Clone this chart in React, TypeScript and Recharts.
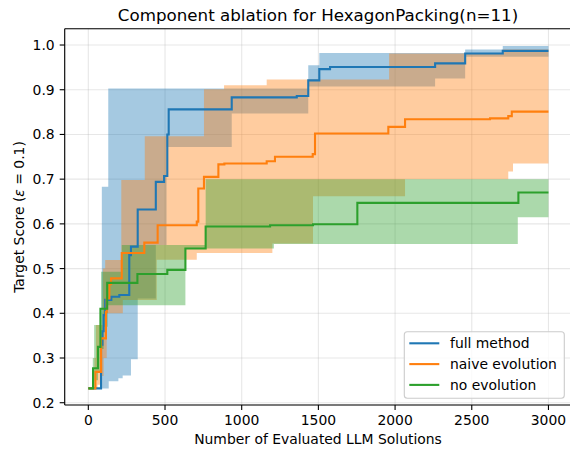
import { ComposedChart, Line, Area, XAxis, YAxis, CartesianGrid, ReferenceLine } from 'recharts';

const xTicks = [0, 500, 1000, 1500, 2000, 2500, 3000];
const yTicks = [0.2, 0.3, 0.4, 0.5, 0.6, 0.7, 0.8, 0.9, 1.0];

// step points [evaluations, score]
const fullLine: [number, number][] = [
  [0, 0.232], [83, 0.33], [92, 0.36], [100, 0.396], [110, 0.43], [150, 0.437], [202, 0.441],
  [267, 0.53], [278, 0.549], [322, 0.632], [440, 0.694], [494, 0.707], [515, 0.8], [524, 0.856],
  [935, 0.883], [1359, 0.886], [1434, 0.921], [1506, 0.946], [1576, 0.951], [2261, 0.959],
  [2457, 0.981], [2702, 0.987], [3000, 0.987],
];
const fullLo: [number, number][] = [
  [0, 0.232], [133, 0.248], [196, 0.255], [224, 0.261], [278, 0.297], [322, 0.433], [440, 0.553],
  [510, 0.772], [935, 0.847], [1434, 0.907], [2261, 0.925], [2457, 0.974], [3000, 0.974],
];
const fullHi: [number, number][] = [
  [0, 0.232], [88, 0.683], [130, 0.903], [1434, 0.955], [1506, 0.982], [2457, 0.99], [2702, 0.998], [3000, 0.998],
];

const naiveLine: [number, number][] = [
  [0, 0.232], [46, 0.269], [83, 0.344], [115, 0.403], [120, 0.433], [137, 0.465], [148, 0.478],
  [218, 0.535], [365, 0.558], [452, 0.597], [707, 0.605], [717, 0.679], [754, 0.705], [848, 0.733],
  [887, 0.735], [1163, 0.74], [1217, 0.75], [1463, 0.756], [1478, 0.802], [1956, 0.817],
  [2065, 0.834], [2619, 0.836], [2738, 0.841], [2761, 0.851], [3000, 0.851],
];
const naiveLo: [number, number][] = [
  [0, 0.232], [60, 0.24], [83, 0.26], [100, 0.3], [120, 0.4], [225, 0.43], [446, 0.52], [707, 0.535],
  [1200, 0.556], [1465, 0.662], [2065, 0.7], [2738, 0.717], [2769, 0.735], [3000, 0.735],
];
const naiveHi: [number, number][] = [
  [0, 0.232], [40, 0.3], [50, 0.374], [95, 0.5], [110, 0.519], [215, 0.698], [368, 0.796],
  [754, 0.901], [885, 0.91], [1163, 0.923], [1961, 0.981], [2702, 0.99], [3000, 0.99],
];

const noEvoLine: [number, number][] = [
  [0, 0.232], [31, 0.277], [63, 0.325], [79, 0.41], [123, 0.468], [320, 0.488], [515, 0.497],
  [633, 0.545], [765, 0.594], [1185, 0.597], [1465, 0.599], [1754, 0.647], [2804, 0.67], [3000, 0.67],
];
const noEvoLo: [number, number][] = [
  [0, 0.232], [40, 0.25], [63, 0.27], [79, 0.32], [100, 0.37], [126, 0.418], [633, 0.545],
  [1210, 0.555], [2800, 0.615], [3000, 0.615],
];
const noEvoHi: [number, number][] = [
  [0, 0.232], [29, 0.3], [38, 0.374], [83, 0.493], [218, 0.553], [765, 0.7], [3000, 0.7],
];

const X_MIN = -154;
const X_MAX = 3147;
const Y_MIN = 0.1949;
const Y_MAX = 1.0365;

const FONT = 'DejaVu Sans';

function stepAt(steps: [number, number][], x: number) {
  let v = steps[0][1];
  for (const [sx, sy] of steps) {
    if (sx <= x) v = sy;
    else break;
  }
  return v;
}

function bandData(lo: [number, number][], hi: [number, number][]) {
  const xs = Array.from(new Set([...lo.map((p) => p[0]), ...hi.map((p) => p[0])])).sort((a, b) => a - b);
  return xs.map((x) => ({ x, range: [stepAt(lo, x), stepAt(hi, x)] }));
}

function lineData(pts: [number, number][]) {
  return pts.map(([x, y]) => ({ x, y }));
}

const series = [
  { name: 'full method', color: '#1f77b4', line: fullLine, lo: fullLo, hi: fullHi },
  { name: 'naive evolution', color: '#ff7f0e', line: naiveLine, lo: naiveLo, hi: naiveHi },
  { name: 'no evolution', color: '#2ca02c', line: noEvoLine, lo: noEvoLo, hi: noEvoHi },
];

export default function App() {
  return (
    <div style={{ position: 'absolute', left: 0, top: 0, width: 570, height: 452, overflow: 'hidden', background: '#fff' }}>
      <ComposedChart width={572} height={452} margin={{ top: 28.7, right: 1, left: 0, bottom: 0 }}>
        <CartesianGrid stroke="#b0b0b0" strokeOpacity={0.3} strokeWidth={1.1} />
        <XAxis
          type="number"
          dataKey="x"
          domain={[X_MIN, X_MAX]}
          ticks={xTicks}
          allowDataOverflow
          height={47}
          tickSize={5}
          tickMargin={5}
          stroke="#000"
          tick={{ fill: '#000', fontSize: 13.9, fontFamily: FONT }}
          axisLine={{ stroke: '#000', strokeWidth: 1.1 }}
          tickLine={{ stroke: '#000', strokeWidth: 1.1 }}
        />
        <YAxis
          type="number"
          domain={[Y_MIN, Y_MAX]}
          ticks={yTicks}
          allowDataOverflow
          width={64.7}
          tickSize={5}
          tickMargin={5}
          tickFormatter={(v: number) => v.toFixed(1)}
          tick={{ fill: '#000', fontSize: 13.9, fontFamily: FONT }}
          axisLine={{ stroke: '#000', strokeWidth: 1.1 }}
          tickLine={{ stroke: '#000', strokeWidth: 1.1 }}
        />
        {series.map((s) => (
          <Area
            key={s.name + '-band'}
            data={bandData(s.lo, s.hi)}
            dataKey="range"
            type="stepAfter"
            fill={s.color}
            fillOpacity={0.4}
            stroke="none"
            isAnimationActive={false}
            activeDot={false}
          />
        ))}
        {series.map((s) => (
          <Line
            key={s.name}
            data={lineData(s.line)}
            dataKey="y"
            type="stepAfter"
            stroke={s.color}
            strokeWidth={2.1}
            dot={false}
            activeDot={false}
            isAnimationActive={false}
          />
        ))}
        <ReferenceLine y={Y_MAX} stroke="#000" strokeWidth={1.1} />
      </ComposedChart>
      <svg width={570} height={452} style={{ position: 'absolute', left: 0, top: 0, pointerEvents: 'none' }}>
        <text x={318} y={20.5} textAnchor="middle" fontFamily={FONT} fontSize={16.7} fill="#000">
          Component ablation for HexagonPacking(n=11)
        </text>
        <text x={318} y={444} textAnchor="middle" fontFamily={FONT} fontSize={13.9} fill="#000">
          Number of Evaluated LLM Solutions
        </text>
        <text
          x={24}
          y={217}
          textAnchor="middle"
          fontFamily={FONT}
          fontSize={13.9}
          fill="#000"
          transform="rotate(-90, 24, 217)"
        >
          Target Score (<tspan fontStyle="italic">ε</tspan> = 0.1)
        </text>
        <rect x={404.3} y={331.7} width={160} height={66.6} rx={3} fill="#fff" fillOpacity={0.8} stroke="#cccccc" strokeWidth={1.1} />
        {series.map((s, i) => (
          <g key={s.name + '-legend'}>
            <line x1={409.3} x2={439.3} y1={343.3 + i * 20.8} y2={343.3 + i * 20.8} stroke={s.color} strokeWidth={2.1} />
            <text x={450} y={343.3 + i * 20.8} dy="0.36em" fontFamily={FONT} fontSize={13.9} fill="#000">
              {s.name}
            </text>
          </g>
        ))}
      </svg>
    </div>
  );
}
